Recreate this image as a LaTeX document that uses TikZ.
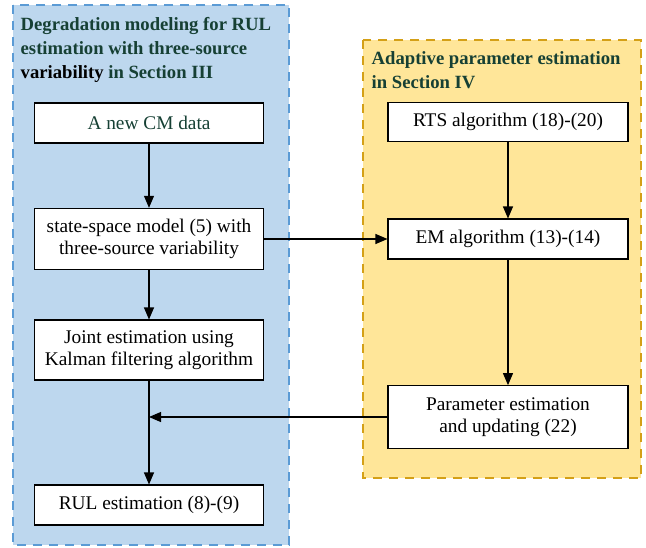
\documentclass[tikz,border=0pt]{standalone}
\usepackage{fontspec}
\setmainfont{Liberation Serif}
\usetikzlibrary{arrows.meta}
\definecolor{blueback}{RGB}{189,215,238}
\definecolor{blueline}{RGB}{91,155,213}
\definecolor{orangeback}{RGB}{255,230,153}
\definecolor{orangeline}{RGB}{212,160,23}
\definecolor{titlegreen}{RGB}{22,64,52}
\begin{document}
\begin{tikzpicture}[x=0.75pt, y=-0.75pt,
	stepbox/.style={draw, thick, fill=white, minimum width=172pt, align=center, font=\fontsize{14.5}{16.5}\selectfont},
	arr/.style={thick, -{Triangle[length=9pt, width=7.5pt]}},
	titletext/.style={anchor=north west, align=left, text=titlegreen, font=\fontsize{14}{18}\selectfont\bfseries}]
		\useasboundingbox(0, 0)rectangle(646, 547);
		\draw[blueline, fill=blueback, thick, dash pattern=on 7pt off 5pt](13, 5)rectangle(289, 545);
		\draw[orangeline, fill=orangeback, thick, dash pattern=on 7pt off 5pt](363, 40)rectangle(641, 478);
		\node[titletext](t1)at(16, 13){Degradation modeling for RUL\\estimation with three-source\\\textcolor{black}{variability} in Section III};
		\node[titletext](t2)at(367, 47){Adaptive parameter estimation\\in Section IV};
		\node[stepbox, minimum height=30pt, text=titlegreen](cm)at(149, 123){A new CM data};
		\node[stepbox, minimum height=46pt](ssm)at(149, 239){state-space model (5) with\\three-source variability};
		\node[stepbox, minimum height=45pt](kf)at(149, 350){Joint estimation using\\Kalman filtering algorithm};
		\node[stepbox, minimum height=30pt](rul)at(149, 505){RUL estimation (8)-(9)};
		\node[stepbox, minimum width=180pt, minimum height=29pt](rts)at(508, 122){RTS algorithm (18)-(20)};
		\node[stepbox, minimum width=180pt, minimum height=30pt](em)at(508, 239){EM algorithm (13)-(14)};
		\node[stepbox, minimum width=180pt, minimum height=47pt](par)at(508, 417){Parameter estimation\\and updating (22)};
		\draw[arr](cm)--(ssm);
		\draw[arr](ssm)--(kf);
		\draw[arr](kf)--(rul);
		\draw[arr](ssm)--(em);
		\draw[arr](rts)--(em);
		\draw[arr](em)--(par);
		\draw[arr](par)--(par-|kf);
	\end{tikzpicture}
\end{document}
